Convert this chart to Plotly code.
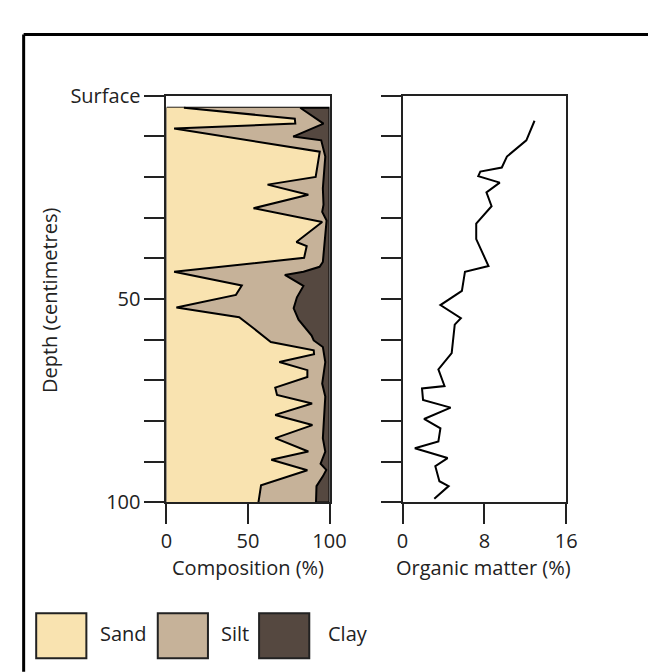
import plotly.graph_objects as go

W, H = 656, 672

# sand boundary (cumulative %, depth cm)
sand_depth = [3.0, 5.7, 6.9, 8.1, 13.8, 20.0, 21.9, 24.4, 27.7, 31.1, 36.0, 37.0, 39.9,
              43.3, 46.7, 49.0, 52.1, 54.5, 57.4, 60.6, 62.6, 63.6, 65.5, 67.5, 69.2,
              71.8, 73.6, 75.7, 78.5, 81.0, 84.2, 87.5, 89.5, 92.1, 95.8, 100]
sand_pct = [10.7, 78.7, 79, 4.7, 94, 91.5, 62, 87, 53.4, 95.5, 79.7, 86, 84.4,
            4.7, 46.2, 42.6, 6.1, 44.6, 54, 64, 90.3, 90.5, 69.2, 86.4, 86.4,
            66.7, 67.8, 89.3, 66.7, 89.5, 66.7, 87, 64.3, 86.4, 58, 56.4]

# sand + silt boundary
silt_depth = [3.0, 6.9, 10.1, 11.0, 15.0, 22.8, 26.8, 28.6, 30.7, 40.9, 42.1, 43.3,
              44.1, 46.8, 49.6, 52.3, 55.1, 59.0, 60.2, 61.8, 65.5, 70.8, 74.0, 78.0,
              84.2, 87.5, 90.5, 92.0, 93.6, 96.0, 100]
silt_cum = [82, 96.3, 77.7, 94.9, 97.4, 95.9, 96.3, 95.5, 98.2, 95.9, 93.9, 84,
            72.6, 84, 80, 78, 81, 89, 90.3, 95.9, 97.4, 95.5, 97.4, 96.8,
            95.9, 97.4, 94.5, 98, 95.9, 92, 91.7]

# organic matter
om_depth = [6.2, 11.0, 15.0, 17.7, 18.7, 19.8, 21.4, 23.8, 27.2, 31.5, 35.3, 41.9,
            43.3, 48.0, 51.5, 54.7, 56.3, 63.3, 67.3, 71.4, 72.0, 74.8, 76.7, 79.5,
            81.8, 85.0, 86.7, 89.1, 91.1, 94.8, 96.0, 99.1]
om_pct = [12.9, 12.1, 10.2, 9.7, 7.6, 7.4, 9.5, 8.2, 8.7, 7.2, 7.2, 8.4,
          6.1, 5.8, 3.7, 5.7, 5.1, 4.8, 3.5, 4.1, 1.9, 2.0, 4.7, 2.1,
          3.7, 3.5, 1.2, 4.4, 3.2, 3.6, 4.5, 3.1]

depth_ticks = [0, 10, 20, 30, 40, 50, 60, 70, 80, 90, 100]
depth_labels = ["Surface", "", "", "", "", "50", "", "", "", "", "100"]
legend_names = ["Sand", "Silt", "Clay"]

SAND, SILT, CLAY = "#F9E3B0", "#C6B299", "#554840"
FONT = "Open Sans"


def px(x):
    return x / W


def py(y):
    return 1 - y / H


fig = go.Figure()

top = sand_depth[0]
# clay background block
fig.add_trace(go.Scatter(x=[0, 100, 100, 0, 0], y=[top, top, 100, 100, top],
                         fill="toself", fillcolor=CLAY, mode="lines",
                         line=dict(color="black", width=2), xaxis="x", yaxis="y"))
fig.add_trace(go.Scatter(x=silt_cum, y=silt_depth, fill="tozerox", fillcolor=SILT,
                         mode="lines", line=dict(color="black", width=2),
                         xaxis="x", yaxis="y"))
fig.add_trace(go.Scatter(x=sand_pct, y=sand_depth, fill="tozerox", fillcolor=SAND,
                         mode="lines", line=dict(color="black", width=2),
                         xaxis="x", yaxis="y"))
fig.add_trace(go.Scatter(x=om_pct, y=om_depth, mode="lines",
                         line=dict(color="black", width=2), xaxis="x2", yaxis="y2"))

axis_common = dict(showline=True, linewidth=2, linecolor="#222", mirror=True,
                   ticks="outside", ticklen=20, tickwidth=2, tickcolor="#222",
                   showgrid=False, zeroline=False,
                   tickfont=dict(family=FONT, size=20, color="#222"))

y_dom = [py(500.5), py(76.6)]
fig.update_layout(
    width=W, height=H, margin=dict(l=0, r=0, t=0, b=0),
    paper_bgcolor="white", plot_bgcolor="white", showlegend=False,
    xaxis=dict(domain=[px(158), px(327)], range=[0, 100], tickvals=[0, 50, 100],
               anchor="y", **axis_common),
    yaxis=dict(domain=y_dom, range=[100, 0], tickvals=depth_ticks, ticktext=depth_labels,
               anchor="x", **axis_common),
    xaxis2=dict(domain=[px(402.7), px(572.3)], range=[0, 16], tickvals=[0, 8, 16],
                anchor="y2", **axis_common),
    yaxis2=dict(domain=y_dom, range=[100, 0], tickvals=depth_ticks, showticklabels=False,
                anchor="x2", **axis_common),
)

ann = [
    dict(text="Composition (%)", x=px(243), y=py(568)),
    dict(text="Organic matter (%)", x=px(487), y=py(568)),
    dict(text="Depth (centimetres)", x=px(37), y=py(290), textangle=-90),
]
for a in ann:
    fig.add_annotation(xref="paper", yref="paper", showarrow=False,
                       xanchor="center", yanchor="middle",
                       font=dict(family=FONT, size=20, color="#222"), **a)

# legend swatches
shapes = []
sw_x = [23, 149, 254]
txt_x = [87, 212, 323]
for name, col, sx, tx in zip(legend_names, [SAND, SILT, CLAY], sw_x, txt_x):
    shapes.append(dict(type="rect", xref="paper", yref="paper",
                       x0=px(sx), x1=px(sx + 52), y0=py(663), y1=py(616),
                       fillcolor=col, line=dict(color="#222", width=2)))
    fig.add_annotation(xref="paper", yref="paper", showarrow=False, text=name,
                       x=px(tx), y=py(637), xanchor="left", yanchor="middle",
                       font=dict(family=FONT, size=20, color="#222"))

# outer frame (left and top edges)
shapes.append(dict(type="line", xref="paper", yref="paper", x0=px(10), x1=px(10),
                   y0=py(13), y1=py(H + 5), line=dict(color="black", width=3)))
shapes.append(dict(type="line", xref="paper", yref="paper", x0=px(10), x1=px(W + 5),
                   y0=py(13), y1=py(13), line=dict(color="black", width=3)))
fig.update_layout(shapes=shapes)

fig.write_html("out.html")
